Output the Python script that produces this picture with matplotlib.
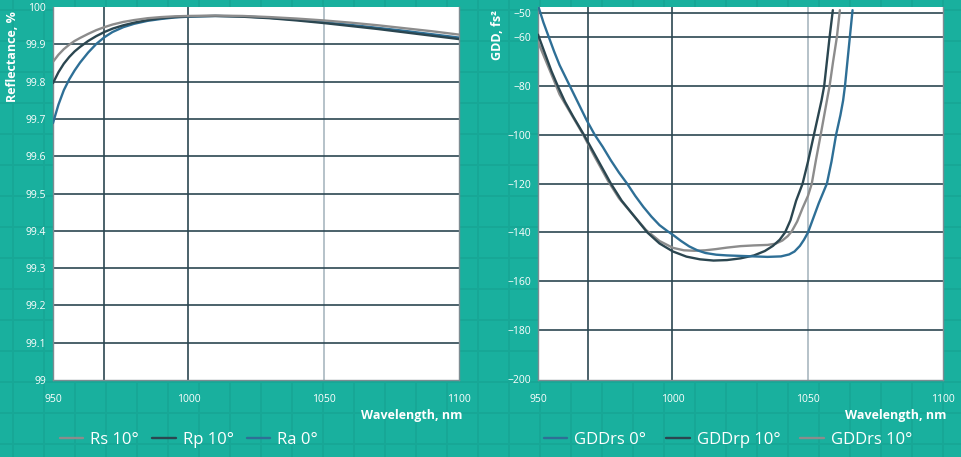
import numpy as np
import matplotlib.pyplot as plt
from matplotlib.lines import Line2D

plt.rcParams['font.family'] = ['Open Sans', 'DejaVu Sans']

# --- reflectance data (left panel) ---
wl_r = [950, 952, 954, 956, 958, 960, 963, 966, 969, 972, 976, 980, 985, 990,
        995, 1000, 1010, 1020, 1030, 1040, 1050, 1060, 1070, 1080, 1090, 1100]
rs_10 = [99.853, 99.872, 99.887, 99.899, 99.909, 99.917, 99.928, 99.938, 99.946,
         99.953, 99.960, 99.965, 99.970, 99.973, 99.975, 99.976, 99.977, 99.976,
         99.973, 99.969, 99.964, 99.958, 99.951, 99.943, 99.935, 99.926]
rp_10 = [99.796, 99.825, 99.848, 99.866, 99.881, 99.893, 99.909, 99.922, 99.933,
         99.942, 99.951, 99.958, 99.965, 99.970, 99.973, 99.975, 99.976, 99.974,
         99.970, 99.964, 99.957, 99.949, 99.941, 99.932, 99.923, 99.914]
ra_0 = [99.689, 99.738, 99.777, 99.806, 99.830, 99.851, 99.878, 99.901, 99.919,
        99.933, 99.946, 99.955, 99.963, 99.968, 99.972, 99.974, 99.976, 99.975,
        99.971, 99.966, 99.959, 99.952, 99.944, 99.936, 99.927, 99.918]

# --- GDD data (right panel) ---
wl_b = [950, 952, 954, 956, 958, 960, 962, 964, 966, 968, 971, 974, 977, 980,
        983, 986, 989, 992, 995, 998, 1000, 1003, 1006, 1009, 1012, 1016, 1020,
        1025, 1030, 1035, 1040, 1043, 1045, 1047, 1048.5, 1050, 1052, 1054,
        1055.5, 1057, 1058.7, 1060.4, 1062, 1063, 1063.7, 1064.6, 1065.5, 1066.5]
gdd_rs0 = [-47, -54, -60, -66, -71.5, -76, -80.5, -85, -89.5, -94, -100, -105,
           -110.5, -115.5, -120, -125, -129.5, -133.5, -137, -139.5, -141, -143.5,
           -145.7, -147.3, -148.4, -149.1, -149.4, -149.6, -149.8, -150, -149.8,
           -149, -147.8, -145.5, -143, -140, -134, -128, -124, -120, -111, -100,
           -92, -86, -80, -70, -60, -49]

wl_d = [950, 953, 955, 957.5, 960, 963, 967, 972, 977, 981, 985, 990.5, 995, 1000,
        1005, 1010, 1015, 1020, 1025, 1030, 1034, 1037, 1039.5, 1041.5, 1043.5,
        1045.6, 1048, 1050, 1052.2, 1054, 1055, 1056, 1057, 1058, 1059.2]
gdd_rp10 = [-59, -68, -74, -80.5, -86.5, -92.5, -100, -110, -120, -127, -132.5, -140,
            -144.5, -147.8, -149.9, -151, -151.5, -151.3, -150.6, -149.4, -147.6,
            -145.5, -143, -140, -135, -127, -120, -111, -100, -91, -86, -80, -70,
            -60, -49]

wl_g = [950, 953, 956, 958, 962, 966.5, 971, 976, 980, 985, 990, 995, 1000, 1004,
        1008, 1012, 1016, 1020, 1025, 1030, 1035, 1038, 1040.5, 1042.5, 1044, 1046,
        1048, 1050, 1051.4, 1053, 1054.7, 1057, 1058, 1059.3, 1060.7, 1061.8]
gdd_rs10 = [-62, -70, -78, -83.5, -91, -99.5, -109, -119, -126, -132.5, -139, -143.5,
            -146.3, -147.3, -147.5, -147.3, -146.8, -146.2, -145.6, -145.3, -145.1,
            -144.6, -143.3, -141.5, -139.5, -135.5, -130, -125, -120, -110, -100, -86,
            -80, -70, -60, -49]

TEAL = '#19b09e'
GRID = '#2c4752'
GREY = '#8c8c8c'
DARK = '#2b4650'
BLUE = '#2e6f96'
W, H = 961, 457

fig = plt.figure(figsize=(9.61, 4.57), dpi=100, facecolor=TEAL)

# faint graph-paper pattern in the background
for x in np.arange(13, W, 31):
    fig.add_artist(Line2D([x / W, x / W], [0, 1], color='#17a796', lw=1.3, zorder=-5))
for y in np.arange(10, H, 31):
    fig.add_artist(Line2D([0, 1], [1 - y / H, 1 - y / H], color='#17a796', lw=1.3, zorder=-5))


def style(ax, xgrid):
    ax.set_facecolor('white')
    for s in ax.spines.values():
        s.set_color('#7d8c92')
        s.set_linewidth(1)
    ax.spines['top'].set_visible(False)
    ax.tick_params(length=0, colors='white', labelsize=7.5)
    ax.tick_params(axis='x', pad=10)
    ax.tick_params(axis='y', pad=5)
    ax.set_xlim(950, 1100)
    ax.set_xticks([950, 1000, 1050, 1100])
    for x in xgrid:
        ax.axvline(x, color=GRID, lw=1.2, zorder=1)
    ax.axvline(1050, color='#a9b8c0', lw=1.2, zorder=1)


line_kw = dict(lw=1.7, solid_joinstyle='round', solid_capstyle='round')

ax1 = fig.add_axes([53 / W, 1 - 380 / H, (459 - 53) / W, 373 / H])
style(ax1, [968.8, 1000])
ax1.set_ylim(99, 100)
ax1.set_yticks(np.round(np.arange(99, 100.01, 0.1), 1))
ax1.set_yticklabels(['99', '99.1', '99.2', '99.3', '99.4', '99.5', '99.6',
                     '99.7', '99.8', '99.9', '100'])
for y in np.arange(99.1, 99.95, 0.1):
    ax1.axhline(y, color=GRID, lw=1.2, zorder=1)
ax1.plot(wl_r, ra_0, color=BLUE, zorder=3, label='Ra 0°', **line_kw)
ax1.plot(wl_r, rp_10, color=DARK, zorder=4, label='Rp 10°', **line_kw)
ax1.plot(wl_r, rs_10, color=GREY, zorder=5, label='Rs 10°', **line_kw)

ax2 = fig.add_axes([538 / W, 1 - 380 / H, (943 - 538) / W, 373 / H])
style(ax2, [968.5, 999.6])
ax2.set_ylim(-200.4, -47.7)
yt = [-200, -180, -160, -140, -120, -100, -80, -60, -50]
ax2.set_yticks(yt)
for y in yt[1:]:
    ax2.axhline(y, color=GRID, lw=1.2, zorder=1)
ax2.plot(wl_g, gdd_rs10, color=GREY, zorder=3, label='GDDrs 10°', **line_kw)
ax2.plot(wl_d, gdd_rp10, color=DARK, zorder=4, label='GDDrp 10°', **line_kw)
ax2.plot(wl_b, gdd_rs0, color=BLUE, zorder=5, label='GDDrs 0°', **line_kw)

# axis titles
lab = dict(color='white', fontsize=9, fontweight='bold')
fig.text(13 / W, 1 - 57 / H, 'Reflectance, %', rotation=90, ha='center', va='center', **lab)
fig.text(497 / W, 1 - 35 / H, 'GDD, fs²', rotation=90, ha='center', va='center', **lab)
fig.text(462 / W, 1 - 415 / H, 'Wavelength, nm', ha='right', va='center', **lab)
fig.text(946 / W, 1 - 415 / H, 'Wavelength, nm', ha='right', va='center', **lab)

# legends
leg_kw = dict(ncol=3, frameon=False, fontsize=12, labelcolor='white',
              handlelength=1.4, handletextpad=0.42, loc='center left',
              borderaxespad=0, borderpad=0)
h1, l1 = ax1.get_legend_handles_labels()
fig.legend(h1[::-1], l1[::-1], bbox_to_anchor=(60 / W, 1 - 440 / H),
           columnspacing=0.8, **leg_kw)
h2, l2 = ax2.get_legend_handles_labels()
fig.legend(h2[::-1], l2[::-1], bbox_to_anchor=(544 / W, 1 - 440 / H),
           columnspacing=1.2, **leg_kw)

fig.savefig('out.png', dpi=100, facecolor=TEAL)
